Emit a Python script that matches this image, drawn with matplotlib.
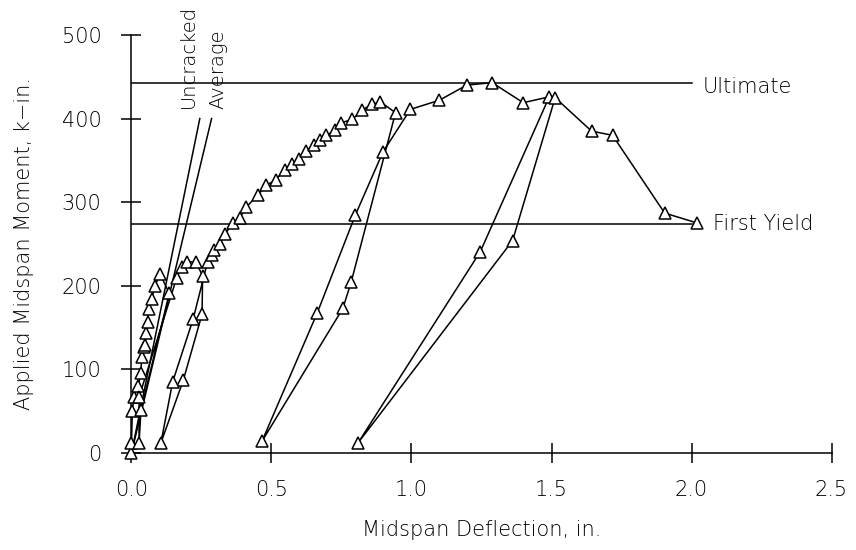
import matplotlib
matplotlib.use("Agg")
import matplotlib.pyplot as plt

# Midspan deflection (in.) and applied moment (k-in.) in test order
deflection = [0.0, 0.0, 0.003, 0.009, 0.024, 0.034, 0.036, 0.046, 0.048, 0.053,
              0.058, 0.062, 0.072, 0.084, 0.102, 0.135, 0.034, 0.027, 0.027, 0.161,
              0.179, 0.197, 0.229, 0.254, 0.252, 0.185, 0.105, 0.147, 0.22, 0.272,
              0.288, 0.295, 0.315, 0.334, 0.363, 0.387, 0.41, 0.452, 0.482, 0.515,
              0.547, 0.575, 0.598, 0.622, 0.651, 0.674, 0.696, 0.728, 0.749, 0.789,
              0.823, 0.858, 0.889, 0.943, 0.785, 0.755, 0.466, 0.664, 0.8, 0.898,
              0.996, 1.1, 1.197, 1.288, 1.399, 1.492, 1.246, 0.809, 1.361, 1.513,
              1.643, 1.718, 1.904, 2.021]
moment = [0, 12, 50, 67, 80, 96, 115, 127, 129, 143,
          157, 172, 184, 200, 214, 191, 52, 12, 67, 209,
          223, 228, 229, 212, 166, 87, 12, 85, 160, 229,
          237, 243, 250, 262, 275, 281, 294, 309, 320, 327,
          338, 346, 352, 361, 368, 374, 380, 386, 395, 399,
          410, 417, 420, 407, 205, 173, 14, 168, 285, 360,
          411, 422, 440, 443, 419, 426, 241, 12, 254, 425,
          385, 380, 287, 275]

# reference stiffness lines (end points)
uncracked_x = [0.0, 0.244]
uncracked_y = [0, 400]
average_x = [0.0, 0.286]
average_y = [0, 400]

ultimate = 442
first_yield = 274

x_ticks = [0.0, 0.5, 1.0, 1.5, 2.0, 2.5]
y_ticks = [0, 100, 200, 300, 400, 500]

plt.rcParams['font.family'] = ['DejaVu Sans']
plt.rcParams['font.weight'] = 'light'
plt.rcParams['axes.labelweight'] = 'light'
plt.rcParams['text.color'] = 'black'

fig = plt.figure(figsize=(8.56, 5.5), dpi=100)
ax = fig.add_axes([0.1536, 0.1764, 0.8178, 0.76])

ax.plot(deflection, moment, color='black', linewidth=1.1, marker='^',
        markersize=8, markerfacecolor='white', markeredgecolor='black',
        markeredgewidth=1.1, clip_on=False, zorder=3)

ax.plot(uncracked_x, uncracked_y, color='black', linewidth=1.1)
ax.plot(average_x, average_y, color='black', linewidth=1.1)

# Ultimate and first yield levels
ax.plot([0, 2.0], [ultimate, ultimate], color='black', linewidth=1.1)
ax.plot([0, 2.0], [first_yield, first_yield], color='black', linewidth=1.1)
ax.text(2.04, ultimate - 4, 'Ultimate', fontsize=15, va='center', ha='left')
ax.text(2.078, first_yield, 'First Yield', fontsize=15, va='center', ha='left')

ax.text(0.202, 413, 'Uncracked', fontsize=14, rotation=90, ha='center', va='bottom')
ax.text(0.309, 411, 'Average', fontsize=14, rotation=90, ha='center', va='bottom')

ax.set_xlim(0, 2.5)
ax.set_ylim(0, 500)
ax.set_xticks(x_ticks)
ax.set_xticklabels([f'{t:.1f}' for t in x_ticks])
ax.set_yticks(y_ticks)
ax.spines['top'].set_visible(False)
ax.spines['right'].set_visible(False)
ax.spines['left'].set_linewidth(1.1)
ax.spines['bottom'].set_linewidth(1.1)
ax.tick_params(direction='inout', length=15, width=1.1, labelsize=15)
ax.tick_params(axis='y', pad=14)
ax.tick_params(axis='x', pad=12)

ax.set_xlabel('Midspan Deflection, in.', fontsize=15, labelpad=14)
ax.set_ylabel('Applied Midspan Moment, k\u2212in.', fontsize=15, labelpad=20)

fig.savefig('out.png', dpi=100)
